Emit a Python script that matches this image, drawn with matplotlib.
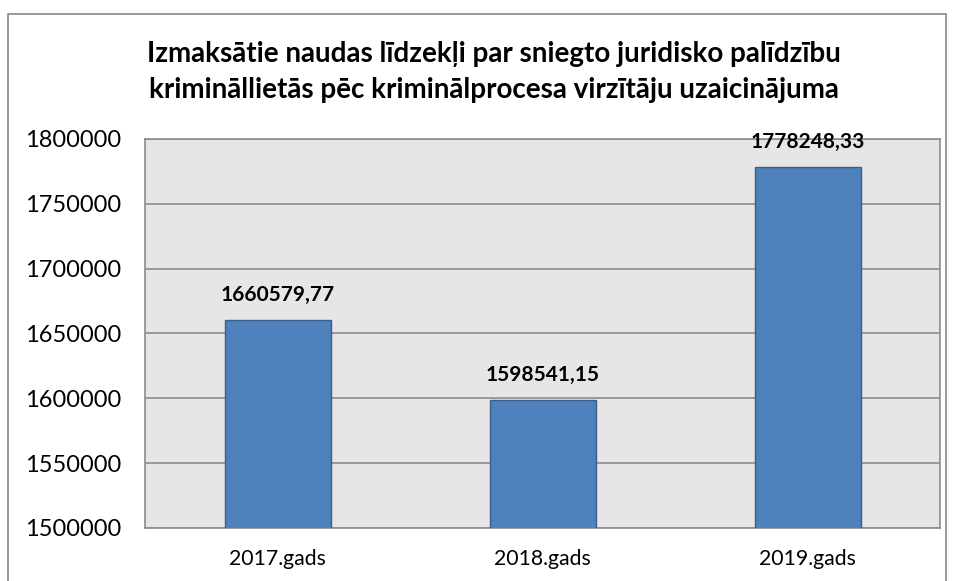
import matplotlib
matplotlib.use("Agg")
import matplotlib.pyplot as plt
from matplotlib.patches import Rectangle

categories = ["2017.gads", "2018.gads", "2019.gads"]
values = [1660579.77, 1598541.15, 1778248.33]
labels = ["1660579,77", "1598541,15", "1778248,33"]
yticks = [1500000, 1550000, 1600000, 1650000, 1700000, 1750000, 1800000]
title = "Izmaksātie naudas līdzekļi par sniegto juridisko palīdzību\nkrimināllietās pēc kriminālprocesa virzītāju uzaicinājuma"

plt.rcParams['font.family'] = ['Lato', 'DejaVu Sans']

fig = plt.figure(figsize=(9.56, 5.81), dpi=100)
fig.patches.append(Rectangle((8/956, -0.01), 938/956, 1 - 14/581 + 0.01,
                             transform=fig.transFigure, fill=False,
                             edgecolor='#878787', linewidth=1.2))

ax = fig.add_axes([145/956, 1 - 528/581, 795/956, (528 - 139)/581])
ax.set_facecolor('#E6E6E6')
x = range(len(categories))
ax.bar(x, values, width=0.4, color='#4F81BD', edgecolor='#3A5F8F', linewidth=1, zorder=3)
ax.set_xlim(-0.5, 2.5)
ax.set_ylim(1500000, 1800000)
ax.set_yticks(yticks)
ax.set_yticklabels([str(v) for v in yticks], fontsize=17)
ax.set_xticks(list(x))
ax.set_xticklabels(categories, fontsize=15.3)
ax.tick_params(axis='x', length=0, pad=15)
ax.tick_params(axis='y', length=0, pad=17)
ax.yaxis.grid(True, color='#8C8C8C', linewidth=1.2, zorder=0)
ax.set_axisbelow(True)
for s in ax.spines.values():
    s.set_color('#8C8C8C')
    s.set_linewidth(1.2)

for xi, v, lab in zip(x, values, labels):
    ax.annotate(lab, (xi, v), xytext=(0, 11), textcoords='offset points',
                ha='center', va='bottom', fontsize=15, fontweight='bold')

fig.text(494/956, 1 - 72/581, title, ha='center', va='center', fontsize=20,
         fontweight='bold', linespacing=1.5)

fig.savefig("out.png", dpi=100, facecolor='white')
